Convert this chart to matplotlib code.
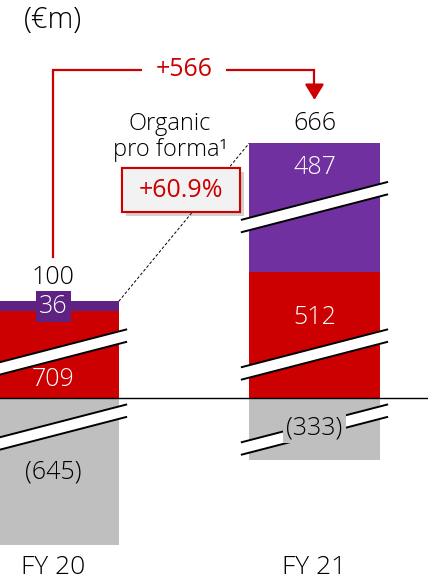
import matplotlib
matplotlib.use('Agg')
import matplotlib.pyplot as plt
from matplotlib.patches import Polygon, Rectangle
import matplotlib.patheffects as pe

plt.rcParams['font.family'] = ['Open Sans', 'DejaVu Sans']
plt.rcParams['font.weight'] = 'light'

years = ['FY 20', 'FY 21']
core = [709, 512]          # red segment
acquired = [36, 487]       # purple segment
costs = [-645, -333]       # grey segment
organic_growth = '+60.9%'

totals = [r + p + c for r, p, c in zip(core, acquired, costs)]
change = totals[1] - totals[0]

# amount taken out at each axis break so the tall segments fit
core_cut = [387, 45]
acquired_cut = [0, 10]
costs_cut = [101, 103]

RED = '#cc0000'
PURPLES = ['#5e2382', '#7030a0']
GREY = '#bfbfbf'

fig = plt.figure(figsize=(4.28, 5.80), dpi=100)
ax = fig.add_axes([0, 0, 1, 1])
ax.set_xlim(-0.205, 1.435)
ax.set_ylim(-674, 1474)
ax.axis('off')

xs = [0, 1]
w = 0.5
core_h = [v - c for v, c in zip(core, core_cut)]
acq_h = [v - c for v, c in zip(acquired, acquired_cut)]
cost_h = [v + c for v, c in zip(costs, costs_cut)]
tops = [a + b for a, b in zip(core_h, acq_h)]

ax.bar(xs, core_h, w, color=RED, zorder=2)
ax.bar(xs, acq_h, w, bottom=core_h, color=PURPLES, zorder=2)
ax.bar(xs, cost_h, w, color=GREY, zorder=2)
ax.axhline(0, color='black', lw=1.0, zorder=4)


def axis_break(xc, yc, half=0.282, rise=141, gap=46):
    xl, xr = xc - half, xc + half
    lo = [yc - rise / 2 - gap / 2, yc + rise / 2 - gap / 2]
    hi = [yc - rise / 2 + gap / 2, yc + rise / 2 + gap / 2]
    ax.add_patch(Polygon([(xl, lo[0]), (xr, lo[1]), (xr, hi[1]), (xl, hi[0])],
                         closed=True, fc='white', ec='none', zorder=5))
    ax.plot([xl, xr], lo, color='black', lw=1.4, zorder=6, solid_capstyle='butt')
    ax.plot([xl, xr], hi, color='black', lw=1.4, zorder=6, solid_capstyle='butt')


for xc, yc in [(0, 161), (0, -117), (1, 707), (1, 161), (1, -117)]:
    axis_break(xc, yc)

# segment labels
core_label_y = [67, 300]
acq_label_y = [core_h[0] + acq_h[0] / 2, 852]
cost_label_y = [-274, -111]
for i in range(2):
    ax.text(xs[i], core_label_y[i], str(core[i]), color='white', fontsize=18,
            ha='center', va='center', zorder=7)
    ax.text(xs[i], cost_label_y[i], '(%d)' % -costs[i], color='black', fontsize=18,
            ha='center', va='center', zorder=7,
            bbox=dict(boxstyle='square,pad=0.12', fc=GREY, ec='none') if i == 1 else None)
ax.text(xs[0], acq_label_y[0], str(acquired[0]), color='white', fontsize=18,
        ha='center', va='center', zorder=7,
        bbox=dict(boxstyle='square,pad=0.12', fc=PURPLES[0], ec='none'))
ax.text(xs[1], acq_label_y[1], str(acquired[1]), color='white', fontsize=18,
        ha='center', va='center', zorder=7)

# totals above the bars
total_label_y = [446, 1018]
for i in range(2):
    ax.text(xs[i], total_label_y[i], str(totals[i]), fontsize=18,
            ha='center', va='center', zorder=7)
    ax.text(xs[i], -626, years[i], fontsize=19, ha='center', va='center')

# bracket showing the change between years
br_y = 1215
ax.plot([0, 0, 1, 1], [522, br_y, br_y, 1150], color=RED, lw=1.6,
        solid_joinstyle='miter', zorder=3)
ax.annotate('', xy=(1, 1104), xytext=(1, 1155),
            arrowprops=dict(arrowstyle='-|>,head_length=0.95,head_width=0.58',
                            mutation_scale=10, color=RED, lw=1.6,
                            shrinkA=0, shrinkB=0), zorder=3)
ax.text(0.5, br_y, '+%d' % change, color=RED, fontsize=18, fontweight='normal',
        ha='center', va='center', zorder=4,
        bbox=dict(boxstyle='square,pad=0.55', fc='white', ec='none'))

# organic growth callout
ax.plot([0.25, 0.75], [tops[0], tops[1]], color='black', lw=0.7,
        ls=(0, (3, 2)), zorder=3)
ax.text(0.446, 966, 'Organic\npro forma\u00b9', fontsize=17, ha='center',
        va='center', linespacing=1.1, zorder=7)
box = Rectangle((0.262, 689), 0.453, 163, fc='#f2f2f2', ec=RED, lw=1.5, zorder=5,
                path_effects=[pe.withSimplePatchShadow(offset=(3, -3), alpha=0.25),
                              pe.Normal()])
ax.add_patch(box)
ax.text(0.489, 770, organic_growth, color=RED, fontsize=18, fontweight='normal',
        ha='center', va='center', zorder=7)

fig.text(24 / 428, 1 - 20 / 580, '(\u20acm)', fontsize=21, ha='left', va='center')

fig.savefig('out.png', dpi=100)
